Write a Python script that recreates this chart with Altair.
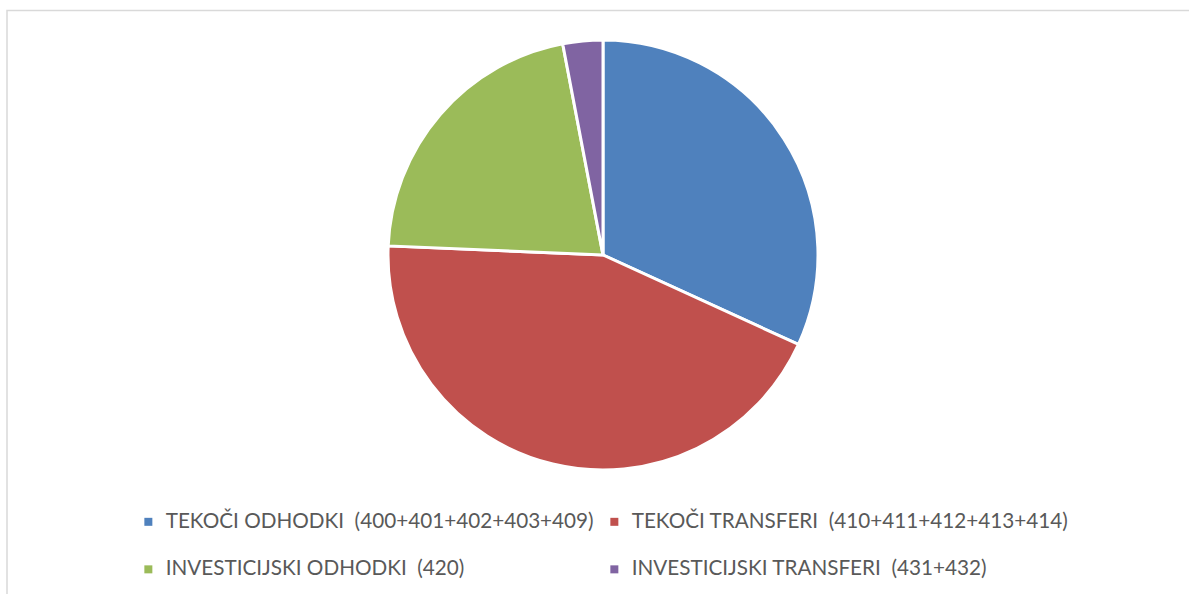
import altair as alt
import pandas as pd

NB = "\u00a0"
categories = [
    "TEKOČI ODHODKI " + NB + "(400+401+402+403+409)",
    "TEKOČI TRANSFERI " + NB + "(410+411+412+413+414)",
    "INVESTICIJSKI ODHODKI " + NB + "(420)",
    "INVESTICIJSKI TRANSFERI " + NB + "(431+432)",
]
values = [31.8, 43.8, 21.3, 3.0]
colors = ["#4F81BD", "#C0504D", "#9BBB59", "#8064A2"]

# legend lays out column-major, so order domain to get row-major appearance
legend_order = [0, 2, 1, 3]
domain = [categories[i] for i in legend_order]
range_ = [colors[i] for i in legend_order]

df = pd.DataFrame({"cat": categories, "val": values, "order": list(range(len(values)))})

frame = alt.Chart(pd.DataFrame({"a": [0]})).mark_rect(
    fill="white", stroke="#D9D9D9", strokeWidth=1.5
).encode(
    x=alt.value(7), x2=alt.value(1200), y=alt.value(10.5), y2=alt.value(620)
)

pie = alt.Chart(df).mark_arc(
    outerRadius=215, stroke="white", strokeWidth=3
).encode(
    theta=alt.Theta("val:Q", stack=True),
    order=alt.Order("order:Q"),
    color=alt.Color(
        "cat:N",
        scale=alt.Scale(domain=domain, range=range_),
        legend=alt.Legend(
            title=None,
            orient="none",
            legendX=138,
            legendY=511,
            columns=2,
            columnPadding=10,
            rowPadding=26,
            symbolType="square",
            symbolSize=64,
            symbolStrokeWidth=0,
            labelFont="Lato",
            labelFontSize=20.7,
            labelColor="#595959",
            labelLimit=700,
            labelOffset=7,
        ),
    ),
    x=alt.value(603),
    y=alt.value(255),
)

chart = alt.layer(frame, pie).properties(
    width=1189, height=594, padding=0, autosize=alt.AutoSizeParams(type="none")
).configure_view(stroke=None)

chart.save("out.html", embed_options={"renderer": "svg", "actions": False})
